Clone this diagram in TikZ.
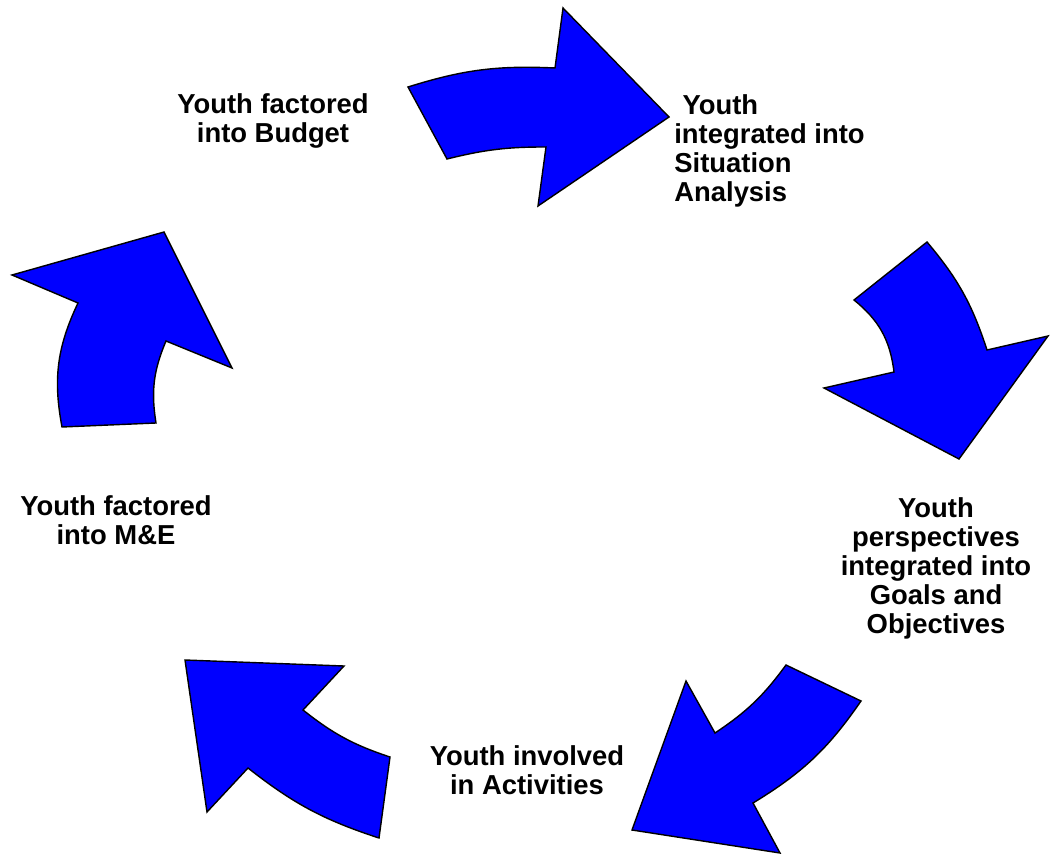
\documentclass[tikz,border=0pt]{standalone}
\usepackage{fontspec}
\setmainfont{Liberation Sans}

\begin{document}
\begin{tikzpicture}[x=0.02cm,y=-0.02cm,
  every node/.style={font=\bfseries\fontsize{15.6}{16.6}\selectfont,inner sep=0pt},
  turn/.style={draw=black,fill=blue,line width=0.8pt,line join=miter}]
 \useasboundingbox (0,0) rectangle (1050,854);
 % the five bent arrows, each traced clockwise
 \draw[turn] (408,87) to[bend left=10] (555,68) -- (563,8) -- (669,117)
  -- (538,206) -- (546,147) to[bend right=7] (447,159) -- cycle;
 \draw[turn] (927,242) to[bend left=11] (987,350) -- (1048,336) -- (959,459)
  -- (824,388) -- (894,372) to[bend right=22] (854,300) -- cycle;
 \draw[turn] (786,665) -- (861,701) to[bend left=12] (753,803) -- (780,853)
  -- (632,830) -- (686,681) -- (715,733) to[bend right=10] cycle;
 \draw[turn] (185,660) -- (344,666) -- (303,710) to[bend right=10] (390,757)
  -- (379,838) to[bend left=10] (248,768) -- (207,812) -- cycle;
 \draw[turn] (164,232) -- (232,368) -- (166,341) to[bend right=16] (156,423)
  -- (62,427) to[bend left=18] (78,303) -- (12,275) -- cycle;
 % labels
 \node[anchor=north,align=center] (budget) at (273,93) {Youth factored\\into Budget};
 \node[anchor=north west,align=left] (situation) at (674,94)
  {\hspace*{0.3em}Youth\\integrated into\\Situation\\Analysis};
 \node[anchor=north,align=center] (goals) at (936,497)
  {Youth\\perspectives\\integrated into\\Goals and\\Objectives};
 \node[anchor=north,align=center] (activities) at (527,745) {Youth involved\\in Activities};
 \node[anchor=north,align=center] (me) at (116,495) {Youth factored\\into M\&E};
\end{tikzpicture}
\end{document}
